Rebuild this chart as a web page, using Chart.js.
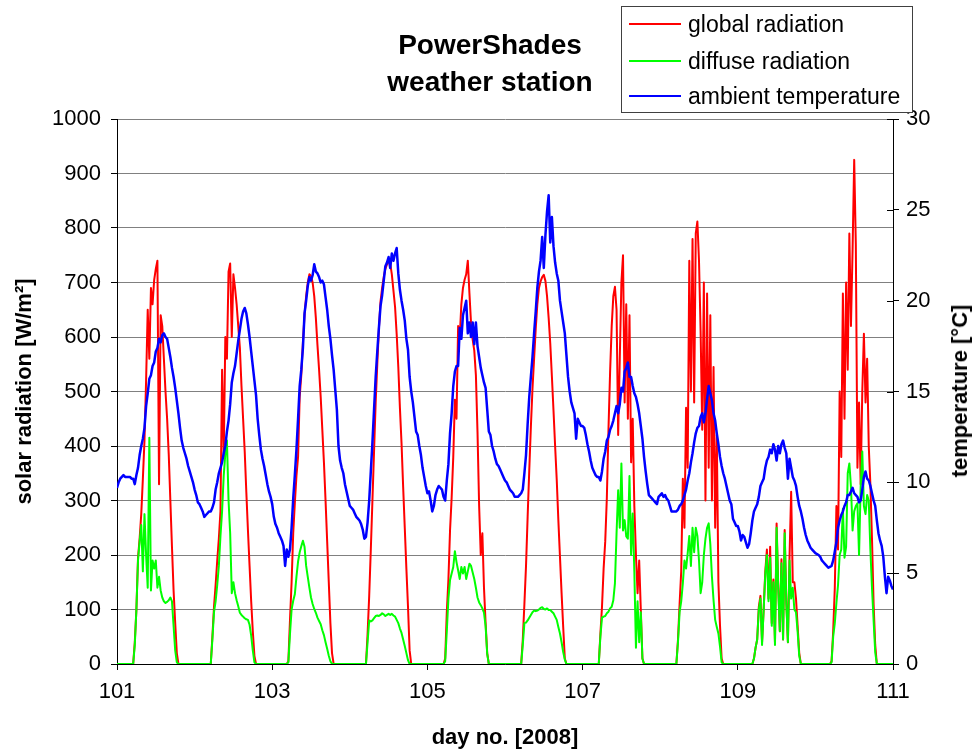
<!DOCTYPE html>
<html>
<head>
<meta charset="utf-8">
<script src="https://cdn.jsdelivr.net/npm/chart.js@4.4.1/dist/chart.umd.min.js"></script>
<style>
  body { margin: 0; background: #fff; font-family: 'Liberation Sans', Arial, sans-serif; color: #000; }
  #wrap { position: relative; width: 976px; height: 755px; overflow: hidden; }
  #chart { position: absolute; left: 0; top: 0; }
  #title { position: absolute; left: 330px; width: 320px; top: 26px; text-align: center;
           font-weight: bold; font-size: 28px; line-height: 37px; }
  #legend { position: absolute; left: 621px; top: 6px; width: 290px; height: 105px;
            border: 1px solid #404040; background: #fff; }
  .item { position: absolute; left: 0; height: 26px; line-height: 26px; font-size: 23px; white-space: nowrap; }
  .item span.swatch { position: absolute; left: 7px; top: 12px; width: 52px; height: 2px; }
  .item span.txt { position: absolute; left: 66px; top: 0; }
  #rtitle { position: absolute; left: 960px; top: 391px; font-weight: bold; font-size: 22px;
            white-space: nowrap; transform: translate(-50%, -50%) rotate(-90deg); }
</style>
</head>
<body>
<div id="wrap">
  <canvas id="chart" width="976" height="755"></canvas>
  <div id="title">PowerShades<br>weather station</div>
  <div id="legend"></div>
  <div id="rtitle">temperature [°C]</div>
</div>
<script>
// half-hourly readings, day 101.0 .. 111.0 (one row per day)
var slotsPerDay = 48;

var globalRad = [
  0,0,0,0,0,0,0,0,0,0,0,40, 100,195,230,275,340,410,520,650,560,690,660,705, 725,740,330,640,620,560,500,450,385,300,215,135, 75,20,0,0,0,0,0,0,0,0,0,0,
  0,0,0,0,0,0,0,0,0,0,0,50, 105,145,190,230,280,540,380,600,560,720,735,600, 715,690,660,620,580,510,450,390,315,245,180,115, 60,15,0,0,0,0,0,0,0,0,0,0,
  0,0,0,0,0,0,0,0,0,0,5,80, 150,240,295,345,380,490,530,590,640,675,700,715, 712,700,675,635,585,540,490,430,370,300,225,150, 75,20,0,0,0,0,0,0,0,0,0,0,
  0,0,0,0,0,0,0,0,0,0,0,55, 125,210,300,390,480,550,615,665,690,710,725,733, 738,735,715,685,655,605,545,470,405,325,250,175, 105,25,0,0,0,0,0,0,0,0,0,0,
  0,0,0,0,0,0,0,0,0,0,0,10, 95,155,245,305,380,485,450,620,600,660,690,705, 715,740,680,625,595,575,530,425,290,200,240,140, 75,20,0,0,0,0,0,0,0,0,0,0,
  0,0,0,0,0,0,0,0,0,0,0,45, 110,180,270,355,435,505,560,615,660,690,702,710, 714,703,675,635,588,528,465,400,338,264,197,130, 68,10,0,0,0,0,0,0,0,0,0,0,
  0,0,0,0,0,0,0,0,0,0,0,55, 105,175,225,305,430,535,620,675,692,650,420,560, 700,750,480,660,450,640,370,450,290,200,130,190, 100,10,0,0,0,0,0,0,0,0,0,0,
  0,0,0,0,0,0,0,0,0,0,0,45, 110,170,340,250,470,360,740,500,780,480,790,812, 740,610,430,700,300,680,360,640,300,545,250,420, 150,70,10,0,0,0,0,0,0,0,0,0,
  0,0,0,0,0,0,0,0,0,0,10,30, 45,105,125,40,100,170,210,120,215,75,155,40, 258,145,60,192,45,246,115,40,197,316,150,150, 120,70,20,0,0,0,0,0,0,0,0,0,
  0,0,0,0,0,0,0,0,0,0,5,60, 140,290,210,500,380,680,450,700,540,790,620,760, 925,770,360,480,330,500,606,480,560,400,330,230, 110,35,0,0,0,0,0,0,0,0,0,0,
  0
];

var diffuseRad = [
  0,0,0,0,0,0,0,0,0,0,0,35, 100,190,225,255,170,275,200,140,415,135,190,175, 190,140,160,135,122,115,112,114,117,122,115,70, 25,3,0,0,0,0,0,0,0,0,0,0,
  0,0,0,0,0,0,0,0,0,0,0,45, 95,115,145,180,235,280,345,385,410,300,240,130, 150,130,117,106,94,90,87,84,82,81,72,52, 25,3,0,0,0,0,0,0,0,0,0,0,
  0,0,0,0,0,0,0,0,0,0,3,55, 100,116,128,160,188,205,216,226,215,180,160,140, 122,110,101,94,85,79,73,62,53,40,28,15, 5,0,0,0,0,0,0,0,0,0,0,0,
  0,0,0,0,0,0,0,0,0,0,0,40, 80,78,80,84,88,89,88,90,93,91,88,90, 92,90,92,89,87,81,75,65,57,45,33,20, 7,0,0,0,0,0,0,0,0,0,0,0,
  0,0,0,0,0,0,0,0,0,0,0,5, 60,120,154,166,178,207,187,172,156,178,166,178, 156,170,184,180,168,156,140,122,113,108,102,94, 70,18,0,0,0,0,0,0,0,0,0,0,
  0,0,0,0,0,0,0,0,0,0,0,35, 75,76,80,85,90,95,98,97,98,100,103,104, 101,100,102,99,99,96,93,87,81,68,56,40, 22,8,0,0,0,0,0,0,0,0,0,0,
  0,0,0,0,0,0,0,0,0,0,0,50, 85,87,88,93,96,102,105,117,148,240,319,250, 368,245,264,234,230,345,200,276,170,30,115,40, 95,10,0,0,0,0,0,0,0,0,0,0,
  0,0,0,0,0,0,0,0,0,0,0,40, 95,115,148,190,175,203,235,180,250,205,250,235, 190,130,150,200,230,250,258,220,160,117,81,68, 56,32,3,0,0,0,0,0,0,0,0,0,
  0,0,0,0,0,0,0,0,0,0,10,30, 45,100,120,35,100,165,200,115,195,70,150,35, 250,140,60,185,45,240,110,40,190,120,140,100, 95,60,15,0,0,0,0,0,0,0,0,0,
  0,0,0,0,0,0,0,0,0,0,3,50, 75,112,145,200,210,285,195,215,350,368,325,245, 280,290,295,200,325,390,290,275,310,300,210,140, 80,22,0,0,0,0,0,0,0,0,0,0,
  0
];

var temperature = [
  9.7,10.0,10.2,10.3,10.4,10.3,10.3,10.3,10.3,10.2,10.2,9.9, 10.4,10.8,11.5,12.0,12.4,13.0,14.2,14.9,15.7,15.9,16.4,16.6, 17.2,17.4,17.9,17.7,18.1,18.2,18.0,17.9,17.4,16.9,16.3,15.8, 15.2,14.5,13.8,13.0,12.3,11.9,11.6,11.3,10.9,10.6,10.3,10.0,
  9.6,9.3,8.9,8.8,8.6,8.4,8.1,8.2,8.3,8.4,8.4,8.6, 8.9,9.6,10.0,10.5,10.8,11.1,11.6,12.0,12.8,13.4,14.3,15.5, 16.0,16.4,17.1,17.8,18.4,19.0,19.4,19.6,19.3,18.7,18.0,17.2, 16.4,15.6,14.8,13.5,12.6,11.8,11.3,10.9,10.4,9.9,9.5,9.2,
  8.8,8.1,7.7,7.5,7.2,7.0,6.8,6.5,5.4,6.3,5.9,6.3, 7.5,9.1,10.4,11.8,13.5,15.3,16.2,17.4,19.3,20.0,20.8,21.3, 21.1,21.4,22.0,21.6,21.5,21.3,21.0,21.1,20.9,20.2,19.5,18.6, 17.9,17.0,16.2,15.1,14.0,12.0,11.2,10.8,10.5,9.9,9.5,9.1,
  8.7,8.6,8.5,8.3,8.1,8.0,7.9,7.7,7.4,6.9,7.0,7.8, 9.0,10.6,12.2,14.0,15.8,17.2,18.5,19.7,20.3,21.1,21.9,22.1, 22.4,21.8,22.6,22.2,22.6,22.9,21.5,20.6,20.0,19.5,18.9,17.9, 17.3,15.8,15.0,14.4,13.6,12.8,12.6,12.0,11.5,10.8,10.3,9.8,
  9.4,9.5,9.0,8.4,8.7,9.3,9.6,9.8,9.7,9.6,9.2,9.0, 10.1,11.0,12.7,13.8,15.3,16.1,16.4,16.4,18.5,17.9,19.2,19.6, 20.0,18.2,18.8,18.0,18.8,17.6,18.8,17.5,16.9,16.3,15.9,15.5, 15.2,14.0,12.8,12.6,12.0,11.7,11.3,11.0,10.9,10.7,10.5,10.3,
  10.1,10.0,9.8,9.6,9.5,9.4,9.2,9.2,9.2,9.3,9.4,9.6, 10.5,11.5,13.2,14.7,15.8,16.9,18.2,19.4,20.7,21.6,22.2,23.5, 21.8,23.6,24.9,25.8,23.2,24.6,23.0,22.1,21.5,21.1,20.0,19.4, 18.8,18.2,17.0,15.8,15.0,14.4,14.1,13.8,12.4,13.5,13.3,13.1,
  13.1,13.0,12.6,12.1,11.7,11.2,10.8,10.6,10.4,10.3,10.3,10.1, 10.6,11.3,11.7,12.3,12.5,12.9,13.1,13.4,13.8,14.2,13.8,14.3, 15.2,15.0,16.1,16.3,16.6,15.8,15.8,15.3,14.9,14.7,14.3,13.8, 13.1,12.4,11.4,10.6,9.9,9.3,9.2,9.1,9.0,8.9,8.8,9.2,
  9.3,9.4,9.2,9.3,9.1,9.0,8.7,8.4,8.4,8.4,8.4,8.5, 8.7,8.8,9.0,9.3,9.6,10.1,10.5,11.1,11.6,12.2,12.7,13.0, 13.1,13.6,13.8,13.3,13.8,14.6,15.3,14.9,14.5,13.8,13.4,12.7, 12.1,11.4,10.9,10.5,10.2,9.8,9.4,9.0,8.8,8.0,7.8,7.6,
  7.6,7.3,6.8,7.1,7.0,6.7,6.4,6.6,7.2,7.9,8.4,8.6, 8.8,9.2,9.8,10.0,10.2,10.8,11.2,11.4,11.8,11.6,12.1,11.8, 11.2,12.0,11.6,12.1,12.3,11.9,11.6,10.2,11.3,10.8,10.3,10.1, 9.8,9.2,8.7,8.4,8.0,7.5,7.1,6.8,6.6,6.4,6.3,6.2,
  6.1,6.05,6.0,5.9,5.7,5.6,5.5,5.4,5.3,5.35,5.4,5.7, 6.2,6.7,7.5,7.9,8.2,8.4,8.7,8.9,9.3,9.3,9.5,9.7, 9.4,9.3,9.2,8.9,9.0,9.6,10.3,10.6,10.2,10.1,9.8,9.4, 9.0,8.7,7.9,7.2,6.8,6.5,5.9,4.8,3.9,4.8,4.6,4.3,
  4.1
];

// sample times (day no.)
var dayNo = globalRad.map(function(v, i) { return 101 + i / slotsPerDay; });

var seriesNames = ['global radiation', 'diffuse radiation', 'ambient temperature'];
var seriesColors = ['#FF0000', '#00FF00', '#0000FF'];

function toPoints(values) {
  return values.map(function(v, i) { return { x: dayNo[i], y: v }; });
}

// legend box (html)
var legend = document.getElementById('legend');
var rowTops = [4, 41, 76];
seriesNames.forEach(function(name, i) {
  var row = document.createElement('div');
  row.className = 'item';
  row.style.top = rowTops[i] + 'px';
  row.innerHTML = '<span class="swatch" style="background:' + seriesColors[i] + '"></span><span class="txt">' + name + '</span>';
  legend.appendChild(row);
});

// right axis ticks cross the axis line
var innerTicks = {
  id: 'innerTicks',
  afterDraw: function(chart) {
    var s = chart.scales.y1;
    var ctx = chart.ctx;
    ctx.save();
    ctx.strokeStyle = '#000';
    ctx.lineWidth = 1;
    s.ticks.forEach(function(t) {
      var y = Math.round(s.getPixelForValue(t.value)) + 0.5;
      ctx.beginPath();
      ctx.moveTo(s.left - 6, y);
      ctx.lineTo(s.left, y);
      ctx.stroke();
    });
    ctx.restore();
  }
};

var fontFamily = "'Liberation Sans', Arial, sans-serif";
var tickFont = { family: fontFamily, size: 22 };
var titleFont = { family: fontFamily, size: 22, weight: 'bold' };
function plainNumber(v) { return String(v); }

var ctx = document.getElementById('chart');
var chart = new Chart(ctx, {
  type: 'line',
  data: {
    datasets: [
      { label: seriesNames[0], data: toPoints(globalRad), borderColor: seriesColors[0], borderWidth: 2, yAxisID: 'y', order: 3 },
      { label: seriesNames[1], data: toPoints(diffuseRad), borderColor: seriesColors[1], borderWidth: 2, yAxisID: 'y', order: 2 },
      { label: seriesNames[2], data: toPoints(temperature), borderColor: seriesColors[2], borderWidth: 2.5, yAxisID: 'y1', order: 1 }
    ]
  },
  options: {
    responsive: false,
    animation: false,
    events: [],
    layout: { padding: { top: 119, left: 0, right: 0, bottom: 0 } },
    elements: {
      point: { radius: 0 },
      line: { tension: 0, fill: false, borderJoinStyle: 'round' }
    },
    plugins: {
      legend: { display: false },
      tooltip: { enabled: false },
      title: { display: false }
    },
    scales: {
      x: {
        type: 'linear', min: 101, max: 111,
        ticks: { stepSize: 2, font: tickFont, color: '#000', padding: 9, maxRotation: 0, callback: plainNumber },
        grid: { drawOnChartArea: false, drawTicks: true, tickLength: 6, tickColor: '#000' },
        border: { color: '#000', width: 1 },
        title: { display: true, text: 'day no. [2008]', font: titleFont, color: '#000', padding: { top: 0, bottom: 4 } },
        afterFit: function(s) { s.height = 91; }
      },
      y: {
        position: 'left', min: 0, max: 1000,
        ticks: { stepSize: 100, font: tickFont, color: '#000', padding: 10, callback: plainNumber },
        grid: { color: '#808080', lineWidth: 1, drawTicks: true, tickLength: 6, tickColor: '#000' },
        border: { color: '#000', width: 1 },
        title: { display: true, text: 'solar radiation [W/m²]', font: titleFont, color: '#000', padding: { top: 12, bottom: 0 } },
        afterFit: function(s) { s.width = 117; }
      },
      y1: {
        position: 'right', min: 0, max: 30,
        ticks: { stepSize: 5, font: tickFont, color: '#000', padding: 7, callback: plainNumber },
        grid: { drawOnChartArea: false, drawTicks: true, tickLength: 6, tickColor: '#000' },
        border: { color: '#000', width: 1 },
        afterFit: function(s) { s.width = 83; }
      }
    }
  },
  plugins: [innerTicks]
});
</script>
</body>
</html>
